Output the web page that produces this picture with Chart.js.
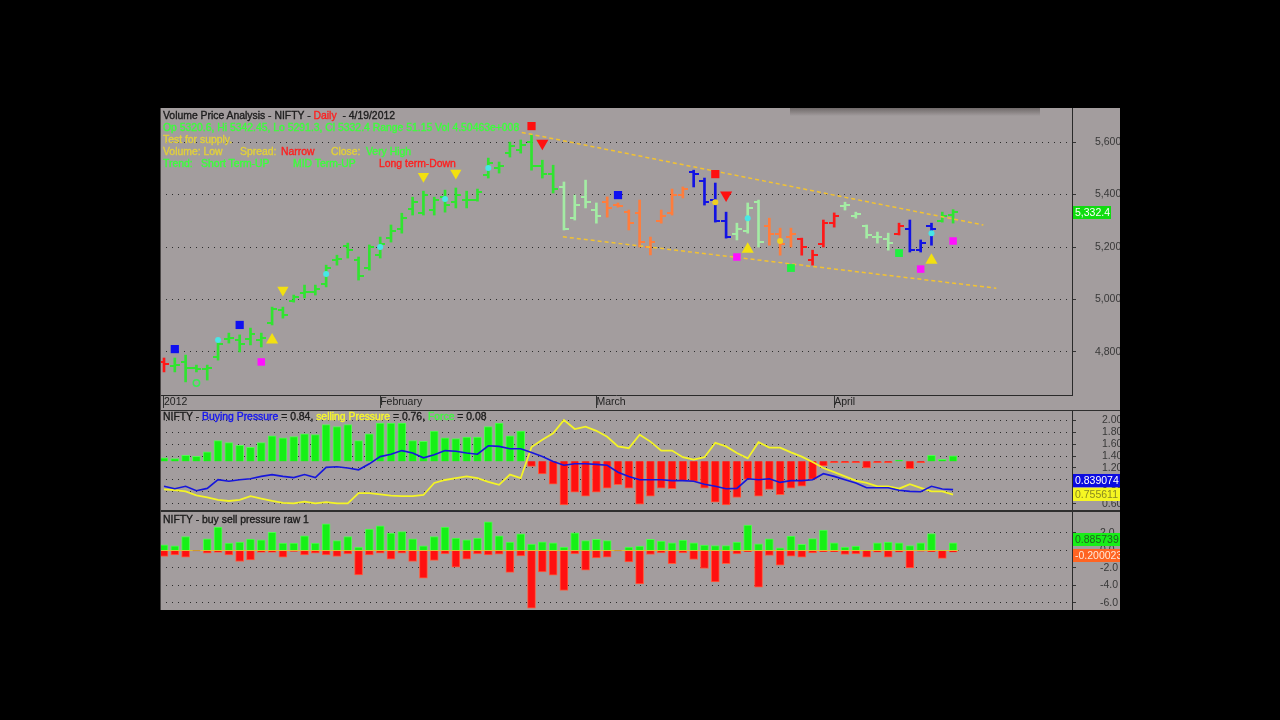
<!DOCTYPE html>
<html lang="en">
<head>
<meta charset="UTF-8">
<title>Volume Price Analysis - NIFTY</title>
<style>
    body { margin: 0; background: #000; width: 1280px; height: 720px; overflow: hidden; font-family: "Liberation Sans", Arial, sans-serif; }
    #frame { position: absolute; left: 160px; top: 108px; width: 960px; height: 502px; background: #a39d9e; overflow: hidden; }
    .pane { position: absolute; left: 0; }
    .pane canvas { display: block; }
    .sep { position: absolute; left: 0; width: 960px; background: #2e2e2e; }
    .txt { position: absolute; font-size: 10.4px; line-height: 12px; white-space: pre; color: #1c1c1c; -webkit-text-stroke: 0.35px currentColor; }
    #shade { position: absolute; left: 630px; top: 0; width: 250px; height: 8px; background: linear-gradient(#6f6969, rgba(163,157,158,0)); }
    #edge { position: absolute; left: 0; top: 0; width: 1px; height: 502px; background: #4a4646; }
</style>
</head>
<body>
<div id="frame">
    <div class="pane" style="top:0"><canvas id="priceChart" width="966" height="302"></canvas></div>
    <div class="pane" style="top:302px"><canvas id="pressureChart" width="966" height="101"></canvas></div>
    <div class="pane" style="top:403px"><canvas id="rawChart" width="966" height="99"></canvas></div>
    <div class="sep" style="top:302px;height:1px"></div>
    <div class="sep" style="top:402px;height:2px"></div>
    <div id="shade"></div>
    <div id="edge"></div>
</div>
<script src="https://cdn.jsdelivr.net/npm/chart.js"></script>
<script>
// ---- price bars (trading days 2 Jan .. 19 Apr 2012) ----
const monthTicks = [0, 20, 40, 62];
const monthLabels = ['2012', 'February', 'March', 'April'];
const priceTicks = [4800, 5000, 5200, 5400, 5600];

const opens = [4760,4745,4760,4740,4735,4780,4850,4845,4850,4845, 4910,4960,4995,5025,5030,5060,5150,5205,5150,5120,
    5170,5235,5270,5345,5330,5340,5390,5370,5380,5380, 5475,5500,5560,5570,5600,5510,5480,5430,5310,5390,
    5340,5370,5360,5335,5330,5200,5300,5330,5400,5485, 5450,5380,5300,5250,5260,5370,5280,5250,5240,5230,
    5150,5210,5290,5355,5320,5280,5240,5230,5250,5270, 5190,5280,5300,5320.6];
const highs = [4777,4777,4788,4750,4750,4846,4872,4865,4891,4872, 4971,4971,5017,5055,5055,5131,5169,5215,5162,5208,
    5238,5284,5329,5390,5413,5390,5417,5425,5413,5421, 5539,5524,5600,5608,5627,5531,5512,5448,5398,5455,
    5368,5391,5368,5341,5379,5238,5341,5421,5429,5493, 5463,5444,5333,5291,5368,5379,5310,5272,5272,5234,
    5188,5303,5330,5371,5333,5284,5257,5253,5291,5303, 5227,5291,5333,5342.45];
const lows = [4724,4724,4686,4724,4693,4769,4834,4800,4827,4819, 4903,4929,4990,5006,5017,5048,5131,5158,5074,5112,
    5158,5219,5253,5322,5322,5322,5333,5349,5349,5375, 5463,5482,5543,5558,5493,5463,5406,5265,5303,5349,
    5291,5314,5352,5265,5200,5170,5291,5322,5387,5429, 5360,5295,5234,5227,5253,5200,5207,5169,5200,5169,
    5131,5200,5276,5341,5310,5234,5215,5188,5246,5181, 5181,5207,5295,5291.3];
const closes = [4755,4750,4740,4735,4740,4830,4855,4830,4870,4855, 4965,4940,5010,5030,5040,5120,5155,5190,5090,5200,
    5210,5260,5310,5370,5400,5380,5360,5400,5380,5410, 5520,5510,5585,5590,5510,5480,5420,5270,5360,5370,
    5320,5350,5358,5290,5220,5220,5320,5400,5420,5480, 5370,5300,5240,5270,5350,5220,5250,5210,5250,5200,
    5170,5290,5320,5360,5325,5245,5240,5215,5280,5190, 5215,5270,5320,5332.4];
// bar class: G up, P weak up, O weak down, B down, R strong down
const barType = ('R' + 'GGGGGGGGGG' + 'GGGGGGGGGG' + 'GGGGGGGGGG' + 'GGGGGG' + 'PPPP' + 'OOOOOOOO' + 'BBBB' +
    'PPP' + 'OOO' + 'RRRR' + 'PPPPP' + 'R' + 'BBB' + 'GG').split('');
const volText = '4.50463e+008';

// signal markers (bar index, price)
const blueSqX = [1, 7, 42],            blueSqY = [4811, 4903, 5398];
const magentaSqX = [9, 53, 70, 73],    magentaSqY = [4762, 5162, 5116, 5223];
const redSqX = [34, 51],               redSqY = [5661, 5478];
const greenSqX = [58, 68],             greenSqY = [5120, 5177];
const yellowUpX = [10, 54, 71],        yellowUpY = [4846, 5192, 5150];
const yellowDownX = [11, 24, 27],      yellowDownY = [5036, 5470, 5482];
const redDownX = [35, 52],             redDownY = [5596, 5398];
const cyanDotX = [5, 15, 20, 26, 30, 54, 71], cyanDotY = [4846, 5097, 5200, 5383, 5501, 5310, 5253];
const yellowDotX = [51, 57],           yellowDotY = [5371, 5223];
const greenRingX = [3],                greenRingY = [4682];
// channel lines
const upperLineX = [33.1, 75.8], upperLineY = [5637, 5284];
const lowerLineX = [36.9, 77.0], lowerLineY = [5239, 5043];

// ---- buying / selling pressure ----
const pressureTicks = [0.6, 0.8, 1.0, 1.2, 1.4, 1.6, 1.8, 2.0];
const buyPressure = [0.895,0.855,0.895,0.82,0.86,1.005,0.98,1.005,1.02,1.06, 1.09,1.06,1.04,1.09,1.04,1.21,1.22,1.20,1.17,1.27,
    1.39,1.43,1.49,1.45,1.37,1.42,1.49,1.48,1.45,1.43, 1.57,1.56,1.52,1.52,1.46,1.39,1.31,1.245,1.27,1.27,
    1.26,1.245,1.13,1.06,1.005,1.005,1.005,0.99,0.99,0.98, 0.93,0.895,0.855,0.86,1.02,1.005,1.02,0.96,0.99,0.99,
    1.005,1.105,1.06,1.005,0.95,0.87,0.87,0.87,0.83,0.81, 0.805,0.895,0.85,0.839074];
const sellPressure = [0.845,0.83,0.81,0.745,0.71,0.67,0.65,0.67,0.73,0.69, 0.65,0.62,0.61,0.64,0.61,0.63,0.61,0.61,0.78,0.78,
    0.76,0.74,0.73,0.73,0.75,0.95,1.00,1.03,1.06,1.03, 0.97,0.92,1.09,1.03,1.55,1.67,1.78,2.00,1.85,1.89,
    1.82,1.72,1.56,1.53,1.755,1.64,1.49,1.49,1.38,1.34, 1.38,1.62,1.56,1.45,1.36,1.63,1.54,1.54,1.46,1.39,
    1.30,1.20,1.13,1.06,0.99,0.95,0.895,0.895,0.855,0.93, 0.87,0.81,0.81,0.755611];
const force = [0.05,0.04,0.09,0.075,0.14,0.31,0.28,0.24,0.21,0.28, 0.38,0.35,0.37,0.41,0.40,0.55,0.52,0.55,0.31,0.41,
    0.57,0.57,0.57,0.31,0.30,0.45,0.35,0.34,0.36,0.36, 0.52,0.57,0.38,0.45,-0.075,-0.19,-0.34,-0.65,-0.46,-0.52,
    -0.46,-0.40,-0.35,-0.40,-0.64,-0.52,-0.40,-0.41,-0.29,-0.30, -0.40,-0.61,-0.65,-0.54,-0.27,-0.52,-0.42,-0.50,-0.40,-0.37,
    -0.27,-0.07,-0.02,-0.02,-0.02,-0.10,-0.02,-0.02,0.02,-0.11, -0.02,0.09,0.03,0.08];

// ---- buy sell pressure raw ----
const rawTicks = [-6, -4, -2, 0, 2];
const rawBuy = [0.65,0.53,1.60,0.05,1.33,2.67,0.84,0.95,1.30,1.22, 2.06,0.84,0.84,1.68,0.84,3.05,1.14,1.60,0.38,2.44,
    2.82,1.98,2.17,1.33,0.53,1.60,2.67,1.41,1.22,1.41, 3.28,1.68,0.95,1.90,0.72,0.99,0.88,0.38,2.02,1.14,
    1.26,1.14,0.05,0.38,0.50,1.26,1.07,0.88,1.18,0.88, 0.61,0.57,0.57,0.95,2.90,0.76,1.33,0.30,1.64,0.69,
    1.37,2.32,0.88,0.38,0.50,0.05,0.88,0.95,0.88,0.57, 0.88,1.94,0.05,0.885739];
const rawSell = [-0.69,-0.50,-0.76,-0.05,-0.30,-0.23,-0.50,-1.26,-1.07,-0.23, -0.23,-0.76,-0.11,-0.50,-0.30,-0.50,-0.69,-0.38,-2.78,-0.50,
    -0.30,-0.99,-0.30,-1.26,-3.16,-1.14,-0.38,-1.90,-0.99,-0.38, -0.50,-0.42,-2.51,-0.61,-6.59,-2.44,-2.82,-4.57,-0.38,-2.25,
    -0.84,-0.76,-0.05,-1.30,-3.81,-0.46,-0.27,-1.52,-0.27,-1.03, -2.06,-3.58,-1.52,-0.38,-0.15,-4.19,-0.57,-1.68,-0.65,-0.76,
    -0.27,-0.15,-0.15,-0.46,-0.38,-0.76,-0.19,-0.76,-0.19,-1.98, -0.08,-0.15,-0.91,-0.200023];

// ---------------------------------------------------------------
const last = closes.length - 1;
const typeColor = { G: '#30e430', P: '#a4eca4', O: '#ff7d3c', B: '#1212e4', R: '#ff1818' };
const FONT = '"Liberation Sans", Arial, sans-serif';
Chart.defaults.font.family = FONT;
Chart.defaults.font.size = 10.5;
Chart.defaults.color = '#333';
Chart.defaults.animation = false;
Chart.defaults.plugins.legend.display = false;
Chart.defaults.plugins.tooltip.enabled = false;

// dotted grid lines
const dotCanvas = document.createElement('canvas');
dotCanvas.width = 6; dotCanvas.height = 1;
const dctx = dotCanvas.getContext('2d');
dctx.fillStyle = '#2c2c2c';
dctx.fillRect(0, 0, 1, 1);
const dots = dctx.createPattern(dotCanvas, 'repeat');

function noPad(s) { s.paddingTop = 0; s.paddingBottom = 0; s.paddingLeft = 0; s.paddingRight = 0; }

function xScale(show) {
    return {
        type: 'linear', min: -0.37, max: 84, offset: false, display: show,
        afterBuildTicks: s => { s.ticks = monthTicks.map(v => ({ value: v })); },
        afterFit: s => { noPad(s); if (show) s.height = 15; },
        grid: { drawOnChartArea: false, drawTicks: true, tickLength: 13, tickColor: '#333', offset: false },
        border: { display: true, color: '#2a2a2a' },
        ticks: {
            autoSkip: false, maxRotation: 0, align: 'start', padding: -12,
            font: { size: 10.5 }, color: '#222',
            callback: v => monthLabels[monthTicks.indexOf(v)]
        }
    };
}

function yScale(min, max, ticks, fmt, pad) {
    return {
        position: 'right', min: min, max: max,
        afterBuildTicks: s => { s.ticks = ticks.map(v => ({ value: v })); },
        afterFit: s => { noPad(s); s.width = 54; },
        grid: { color: dots, drawTicks: true, tickLength: 4, tickColor: '#333' },
        border: { display: true, color: '#2a2a2a' },
        ticks: { autoSkip: false, crossAlign: 'near', padding: pad, color: '#383838', callback: fmt }
    };
}

// value boxes on the right axis
function valueTags(tags) {
    return {
        id: 'valueTags',
        afterDraw(chart) {
            const { ctx, chartArea } = chart;
            ctx.save();
            ctx.font = '10.5px ' + FONT;
            ctx.textBaseline = 'middle';
            tags.forEach(t => {
                const y = chart.scales[t.axis].getPixelForValue(t.value) + t.shift;
                ctx.fillStyle = t.bg;
                ctx.fillRect(chartArea.right + 1, Math.round(y - 6.5), t.width, 13);
                ctx.fillStyle = t.fg;
                ctx.fillText(t.text, chartArea.right + 3, y + 0.5);
            });
            ctx.restore();
        }
    };
}

// yellow zero line under the raw histogram, only where there are bars
const zeroLine = {
    id: 'zeroLine',
    beforeDatasetsDraw(chart) {
        const { ctx, scales: { x, y } } = chart;
        const py = Math.round(y.getPixelForValue(0)) + 0.5;
        ctx.save();
        ctx.strokeStyle = '#d8c23a';
        ctx.lineWidth = 1;
        ctx.beginPath();
        ctx.moveTo(x.getPixelForValue(-0.5), py);
        ctx.lineTo(x.getPixelForValue(last + 0.5), py);
        ctx.stroke();
        ctx.restore();
    }
};

// open / close ticks of the OHLC bars
const ohlcTicks = {
    id: 'ohlcTicks',
    afterDatasetDraw(chart, args) {
        if (args.index !== 0) return;
        const { ctx, chartArea, scales: { x, y } } = chart;
        ctx.save();
        ctx.beginPath();
        ctx.rect(chartArea.left, chartArea.top, chartArea.width, chartArea.height);
        ctx.clip();
        ctx.lineWidth = 2;
        opens.forEach((o, i) => {
            const px = Math.round(x.getPixelForValue(i));
            const po = Math.round(y.getPixelForValue(o));
            const pc = Math.round(y.getPixelForValue(closes[i]));
            ctx.strokeStyle = typeColor[barType[i]];
            ctx.beginPath();
            ctx.moveTo(px - 5, po); ctx.lineTo(px, po);
            ctx.moveTo(px, pc); ctx.lineTo(px + 5, pc);
            ctx.stroke();
        });
        ctx.restore();
    }
};

function marks(xs, ys, style, color, radius, rotation, hollow) {
    return {
        type: 'scatter', order: 0,
        data: xs.map((v, i) => ({ x: v, y: ys[i] })),
        pointStyle: style, pointRadius: radius, pointRotation: rotation || 0,
        backgroundColor: hollow ? 'rgba(0,0,0,0)' : color,
        borderColor: color, borderWidth: hollow ? 1.5 : 0
    };
}

function channel(xs, ys) {
    return {
        type: 'line', order: 1,
        data: xs.map((v, i) => ({ x: v, y: ys[i] })),
        borderColor: '#f2c232', borderWidth: 1.5, borderDash: [4, 3], pointRadius: 0
    };
}

const baseLayout = { padding: 0, autoPadding: false };

// ---- price panel ----
new Chart(document.getElementById('priceChart'), {
    type: 'bar',
    data: {
        datasets: [
            {
                order: 2,
                data: highs.map((h, i) => ({ x: i, y: [lows[i], h] })),
                backgroundColor: barType.map(t => typeColor[t]),
                barThickness: 2
            },
            channel(upperLineX, upperLineY),
            channel(lowerLineX, lowerLineY),
            marks(blueSqX, blueSqY, 'rect', '#1010f0', 5.8),
            marks(magentaSqX, magentaSqY, 'rect', '#ff10ff', 5.3),
            marks(redSqX, redSqY, 'rect', '#ff1010', 5.8),
            marks(greenSqX, greenSqY, 'rect', '#20f040', 5.5),
            marks(yellowUpX, yellowUpY, 'triangle', '#f2e010', 7),
            marks(yellowDownX, yellowDownY, 'triangle', '#f2e010', 6.5, 180),
            marks(redDownX, redDownY, 'triangle', '#ff1010', 7, 180),
            marks(cyanDotX, cyanDotY, 'circle', '#48e6e6', 3),
            marks(yellowDotX, yellowDotY, 'circle', '#f0d020', 3),
            marks(greenRingX, greenRingY, 'circle', '#36ee50', 3.2, 0, true)
        ]
    },
    options: {
        responsive: false,
        layout: baseLayout,
        scales: {
            x: xScale(true),
            y: yScale(4636, 5730, priceTicks, v => v.toLocaleString('en-US'), 19)
        }
    },
    plugins: [ohlcTicks, valueTags([
        { axis: 'y', value: closes[last], shift: 0, bg: '#10dc10', fg: '#ffffff', width: 38,
          text: closes[last].toLocaleString('en-US') }
    ])]
});

// ---- pressure panel ----
new Chart(document.getElementById('pressureChart'), {
    type: 'bar',
    data: {
        datasets: [
            { type: 'line', order: 0, data: buyPressure.map((v, i) => ({ x: i, y: v })),
              borderColor: '#1616dc', borderWidth: 1.6, pointRadius: 0, yAxisID: 'y' },
            { type: 'line', order: 0, data: sellPressure.map((v, i) => ({ x: i, y: v })),
              borderColor: '#f4f426', borderWidth: 1.8, pointRadius: 0, yAxisID: 'y' },
            { order: 1, data: force.map((v, i) => ({ x: i, y: v })), yAxisID: 'yF',
              backgroundColor: force.map(v => v >= 0 ? '#16f016' : '#ff1010'),
              borderColor: force.map(v => v >= 0 ? '#52fa52' : '#ff5a3c'),
              borderWidth: 1, barThickness: 8 }
        ]
    },
    options: {
        responsive: false,
        layout: baseLayout,
        scales: {
            x: xScale(false),
            y: yScale(0.483, 2.167, pressureTicks, v => v.toFixed(2), 26),
            yF: { display: false, min: -0.742, max: 0.766 }
        }
    },
    plugins: [valueTags([
        { axis: 'y', value: buyPressure[last], shift: -9, bg: '#0c0ce0', fg: '#ffffff', width: 54,
          text: buyPressure[last].toFixed(6) },
        { axis: 'y', value: sellPressure[last], shift: 0, bg: '#f6f622', fg: '#8a8a20', width: 54,
          text: sellPressure[last].toFixed(6) }
    ])]
});

// ---- raw buy/sell panel ----
new Chart(document.getElementById('rawChart'), {
    type: 'bar',
    data: {
        datasets: [
            { data: rawBuy.map((v, i) => ({ x: i, y: v })), backgroundColor: '#16f016',
              borderColor: '#52fa52', borderWidth: 1, barThickness: 8 },
            { data: rawSell.map((v, i) => ({ x: i, y: v })), backgroundColor: '#ff1010',
              borderColor: '#ff5a3c', borderWidth: 1, barThickness: 8 }
        ]
    },
    options: {
        responsive: false,
        layout: baseLayout,
        datasets: { bar: { grouped: false } },
        scales: {
            x: xScale(false),
            y: yScale(-6.8, 4.51, rawTicks, v => v.toFixed(1), 24)
        }
    },
    plugins: [zeroLine, valueTags([
        { axis: 'y', value: rawBuy[last], shift: -3, bg: '#18ee18', fg: '#1f5f1f', width: 54,
          text: rawBuy[last].toFixed(6) },
        { axis: 'y', value: rawSell[last], shift: 3, bg: '#ff6422', fg: '#ffe8d8', width: 54,
          text: rawSell[last].toFixed(6) }
    ])]
});

// ---- header texts ----
const frame = document.getElementById('frame');
function addText(left, top, parts) {
    const d = document.createElement('div');
    d.className = 'txt';
    d.style.left = left + 'px';
    d.style.top = top + 'px';
    parts.forEach(p => {
        const s = document.createElement('span');
        s.textContent = p[0];
        if (p[1]) s.style.color = p[1];
        d.appendChild(s);
    });
    frame.appendChild(d);
}
const GRN = '#3cff3c', YEL = '#e2d03a', RED = '#ff1e1e';
addText(3, 2, [['Volume Price Analysis - NIFTY - '], ['Daily', RED], ['  - 4/19/2012']]);
addText(3, 14, [['Op ' + opens[last] + ', Hi ' + highs[last] + ', Lo ' + lows[last] + ', Cl ' + closes[last] +
    ' Range ' + (highs[last] - lows[last]).toFixed(2) + ' Vol ' + volText, GRN]]);
addText(3, 26, [['Test for supply.', YEL]]);
addText(3, 38, [['Volume: Low', YEL]]);
addText(80, 38, [['Spread:', YEL]]);
addText(121, 38, [['Narrow', RED]]);
addText(171, 38, [['Close:', YEL]]);
addText(206, 38, [['Very High', GRN]]);
addText(3, 50, [['Trend:', GRN]]);
addText(41, 50, [['Short Term-UP', GRN]]);
addText(133, 50, [['MID Term-UP', GRN]]);
addText(219, 50, [['Long term-Down', RED]]);
addText(3, 303, [['NIFTY - '], ['Buying Pressure', '#1414f0'], [' = ' + buyPressure[last].toFixed(2) + ', '],
    ['selling Pressure', '#f8f82a'], [' = ' + sellPressure[last].toFixed(2) + ', '], ['Force', '#44f544'],
    [' = ' + force[last].toFixed(2)]]);
addText(3, 406, [['NIFTY - buy sell pressure raw 1']]);
</script>
</body>
</html>
